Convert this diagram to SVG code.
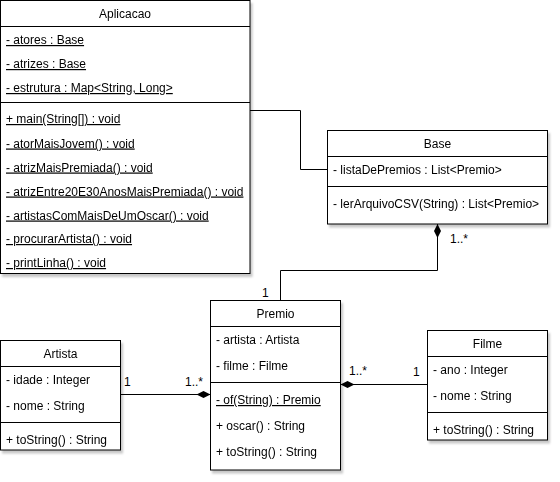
<svg xmlns="http://www.w3.org/2000/svg" width="560" height="482" viewBox="0 0 560 482">
<defs>
<filter id="sh" x="-10%" y="-10%" width="130%" height="130%">
<feDropShadow dx="2" dy="3" stdDeviation="1.2" flood-color="#000" flood-opacity="0.22"/>
</filter>
<marker id="dia" viewBox="0 0 14 8" refX="14" refY="4" markerWidth="14" markerHeight="8" markerUnits="userSpaceOnUse" orient="auto">
<path d="M0,4 L7,0.5 L14,4 L7,7.5 Z" fill="#000"/>
</marker>
</defs>
<style>
text{font-family:"Liberation Sans",Arial,sans-serif;font-size:12px;fill:#000}
.t{text-anchor:middle}
.u{text-decoration:underline}
.box{fill:#fff;stroke:#000;stroke-width:1}
.ln{stroke:#000;stroke-width:1;fill:none}
</style>
<rect width="560" height="482" fill="#fff"/>
<g id="connectors">
<polyline class="ln" points="250,110.5 300.5,110.5 300.5,169.5 327,169.5"/>
<polyline class="ln" points="280.5,300.5 280.5,270.5 437.5,270.5 437.5,224" marker-end="url(#dia)"/>
<line class="ln" x1="120.5" y1="394.5" x2="210.5" y2="394.5" marker-end="url(#dia)"/>
<line class="ln" x1="427.5" y1="384.5" x2="340.5" y2="384.5" marker-end="url(#dia)"/>
<text x="450" y="243">1..*</text>
<text x="262" y="297">1</text>
<text x="124" y="386">1</text>
<text x="185" y="386">1..*</text>
<text x="349" y="375">1..*</text>
<text x="413" y="376">1</text>
</g>
<g id="Aplicacao" filter="url(#sh)">
<rect class="box" x="0.5" y="0.5" width="249.5" height="273"/>
<line class="ln" x1="0.5" y1="26.5" x2="250" y2="26.5"/>
<line class="ln" x1="0.5" y1="102.5" x2="250" y2="102.5"/>
<text class="t" x="125" y="18">Aplicacao</text>
<text class="u" x="6" y="44">- atores : Base</text>
<text class="u" x="6" y="68">- atrizes : Base</text>
<text class="u" x="6" y="92">- estrutura : Map&lt;String, Long&gt;</text>
<text class="u" x="6" y="123">+ main(String[]) : void</text>
<text class="u" x="6" y="147.5">- atorMaisJovem() : void</text>
<text class="u" x="6" y="171.5">- atrizMaisPremiada() : void</text>
<text class="u" x="6" y="195.5">- atrizEntre20E30AnosMaisPremiada() : void</text>
<text class="u" x="6" y="219.5">- artistasComMaisDeUmOscar() : void</text>
<text class="u" x="6" y="243">- procurarArtista() : void</text>
<text class="u" x="6" y="267">- printLinha() : void</text>
</g>
<g id="Base" filter="url(#sh)">
<rect class="box" x="327.5" y="130.5" width="220" height="93.5"/>
<line class="ln" x1="327.5" y1="156.5" x2="547.5" y2="156.5"/>
<line class="ln" x1="327.5" y1="186.5" x2="547.5" y2="186.5"/>
<text class="t" x="437.5" y="147.5">Base</text>
<text x="333" y="174">- listaDePremios : List&lt;Premio&gt;</text>
<text x="333" y="208">- lerArquivoCSV(String) : List&lt;Premio&gt;</text>
</g>
<g id="Premio" filter="url(#sh)">
<rect class="box" x="210.5" y="300.5" width="130" height="169.5"/>
<line class="ln" x1="210.5" y1="326.5" x2="340.5" y2="326.5"/>
<line class="ln" x1="210.5" y1="382.5" x2="340.5" y2="382.5"/>
<text class="t" x="275.5" y="317.5">Premio</text>
<text x="216" y="344">- artista : Artista</text>
<text x="216" y="370">- filme : Filme</text>
<text class="u" x="216" y="404">- of(String) : Premio</text>
<text x="216" y="430">+ oscar() : String</text>
<text x="216" y="456">+ toString() : String</text>
</g>
<g id="Artista" filter="url(#sh)">
<rect class="box" x="0.5" y="340.5" width="120" height="109.5"/>
<line class="ln" x1="0.5" y1="366.5" x2="120.5" y2="366.5"/>
<line class="ln" x1="0.5" y1="422.5" x2="120.5" y2="422.5"/>
<text class="t" x="60.5" y="357.5">Artista</text>
<text x="6" y="384">- idade : Integer</text>
<text x="6" y="410">- nome : String</text>
<text x="6" y="444">+ toString() : String</text>
</g>
<g id="Filme" filter="url(#sh)">
<rect class="box" x="427.5" y="330.5" width="120" height="109.5"/>
<line class="ln" x1="427.5" y1="356.5" x2="547.5" y2="356.5"/>
<line class="ln" x1="427.5" y1="412.5" x2="547.5" y2="412.5"/>
<text class="t" x="487.5" y="348">Filme</text>
<text x="433" y="374">- ano : Integer</text>
<text x="433" y="400">- nome : String</text>
<text x="433" y="434">+ toString() : String</text>
</g>
</svg>
